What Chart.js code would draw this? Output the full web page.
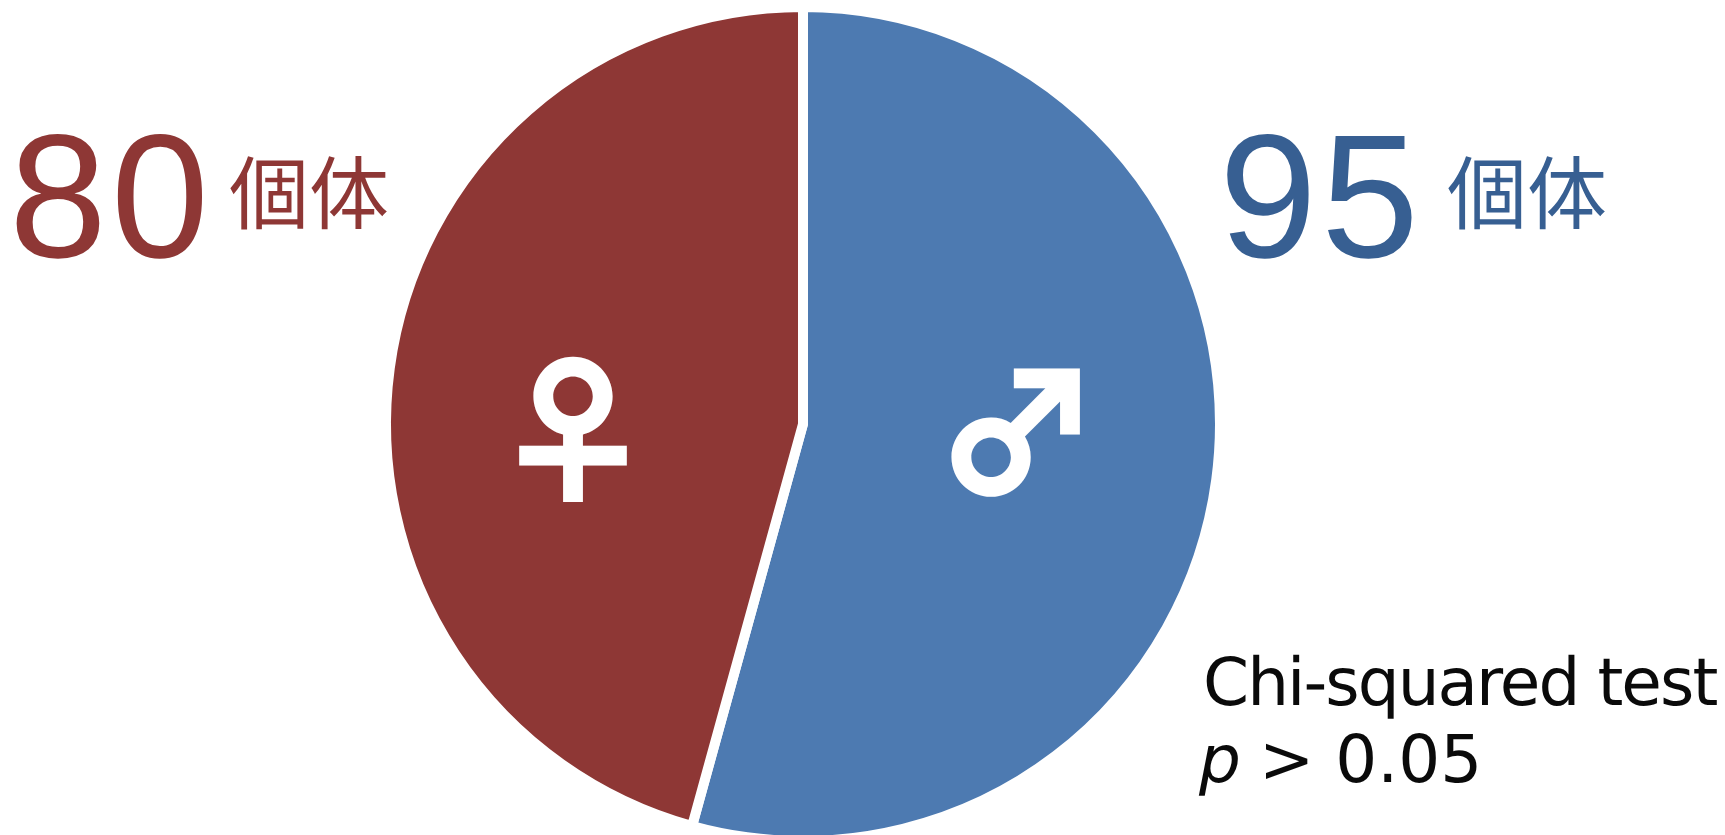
<!DOCTYPE html>
<html lang="en">
<head>
    <meta charset="UTF-8">
    <title>Sex ratio pie</title>
    <script src="https://cdn.jsdelivr.net/npm/chart.js"></script>
    <style>
        html, body { margin: 0; padding: 0; background: #fff; overflow: hidden; }
        canvas { display: block; }
    </style>
</head>
<body>
    <canvas id="sexChart" width="1725" height="835"></canvas>

    <script>
        // values, clockwise from 12 o'clock
        const categories = ['♂', '♀'];
        const counts = [95, 80];
        const unitLabel = '個体';
        const testLines = ['Chi-squared test', '> 0.05'];
        const pLabel = 'p';

        const sliceColors = ['#4D7AB1', '#8E3735'];
        const textColors = ['#375F92', '#8E3735'];

        const latin = '"Liberation Sans", sans-serif';
        const cjk = '"Noto Sans CJK JP", sans-serif';
        const dejavu = '"DejaVu Sans", sans-serif';

        function put(ctx, text, x, y, font, color) {
            ctx.font = font;
            ctx.fillStyle = color;
            ctx.fillText(text, x, y);
        }

        const labelsPlugin = {
            id: 'labels',
            afterDraw(chart) {
                const ctx = chart.ctx;
                ctx.save();
                ctx.textRendering = 'geometricPrecision';
                ctx.textBaseline = 'alphabetic';
                ctx.textAlign = 'left';

                // counts next to the pie
                ctx.letterSpacing = '4px';
                put(ctx, String(counts[1]), 9, 257, '176px ' + latin, textColors[1]);
                put(ctx, String(counts[0]), 1219, 257, '176px ' + latin, textColors[0]);
                ctx.letterSpacing = '0px';
                put(ctx, unitLabel, 229, 223, '80px ' + cjk, textColors[1]);
                put(ctx, unitLabel, 1447, 223, '80px ' + cjk, textColors[0]);

                // symbols inside the slices
                ctx.textAlign = 'center';
                put(ctx, categories[1], 573, 492, '900 165px ' + cjk, '#fff');
                put(ctx, categories[0], 1016, 495, '900 165px ' + cjk, '#fff');

                // test result
                ctx.textAlign = 'left';
                ctx.letterSpacing = '-1.95px';
                put(ctx, testLines[0], 1203, 705, '66px ' + dejavu, '#0a0a0a');
                ctx.letterSpacing = '0px';
                put(ctx, pLabel, 1199, 782, 'italic 66px ' + dejavu, '#0a0a0a');
                put(ctx, testLines[1], 1259, 782, '66px ' + dejavu, '#0a0a0a');
                ctx.restore();
            }
        };

        new Chart(document.getElementById('sexChart'), {
            type: 'pie',
            data: {
                labels: categories,
                datasets: [{
                    data: counts,
                    backgroundColor: sliceColors,
                    borderColor: '#ffffff',
                    borderWidth: 10,
                    radius: 417
                }]
            },
            options: {
                responsive: false,
                animation: false,
                layout: { padding: { left: 0, right: 119, top: 13, bottom: 0 } },
                plugins: { legend: { display: false }, tooltip: { enabled: false } }
            },
            plugins: [labelsPlugin]
        });
    </script>
</body>
</html>
